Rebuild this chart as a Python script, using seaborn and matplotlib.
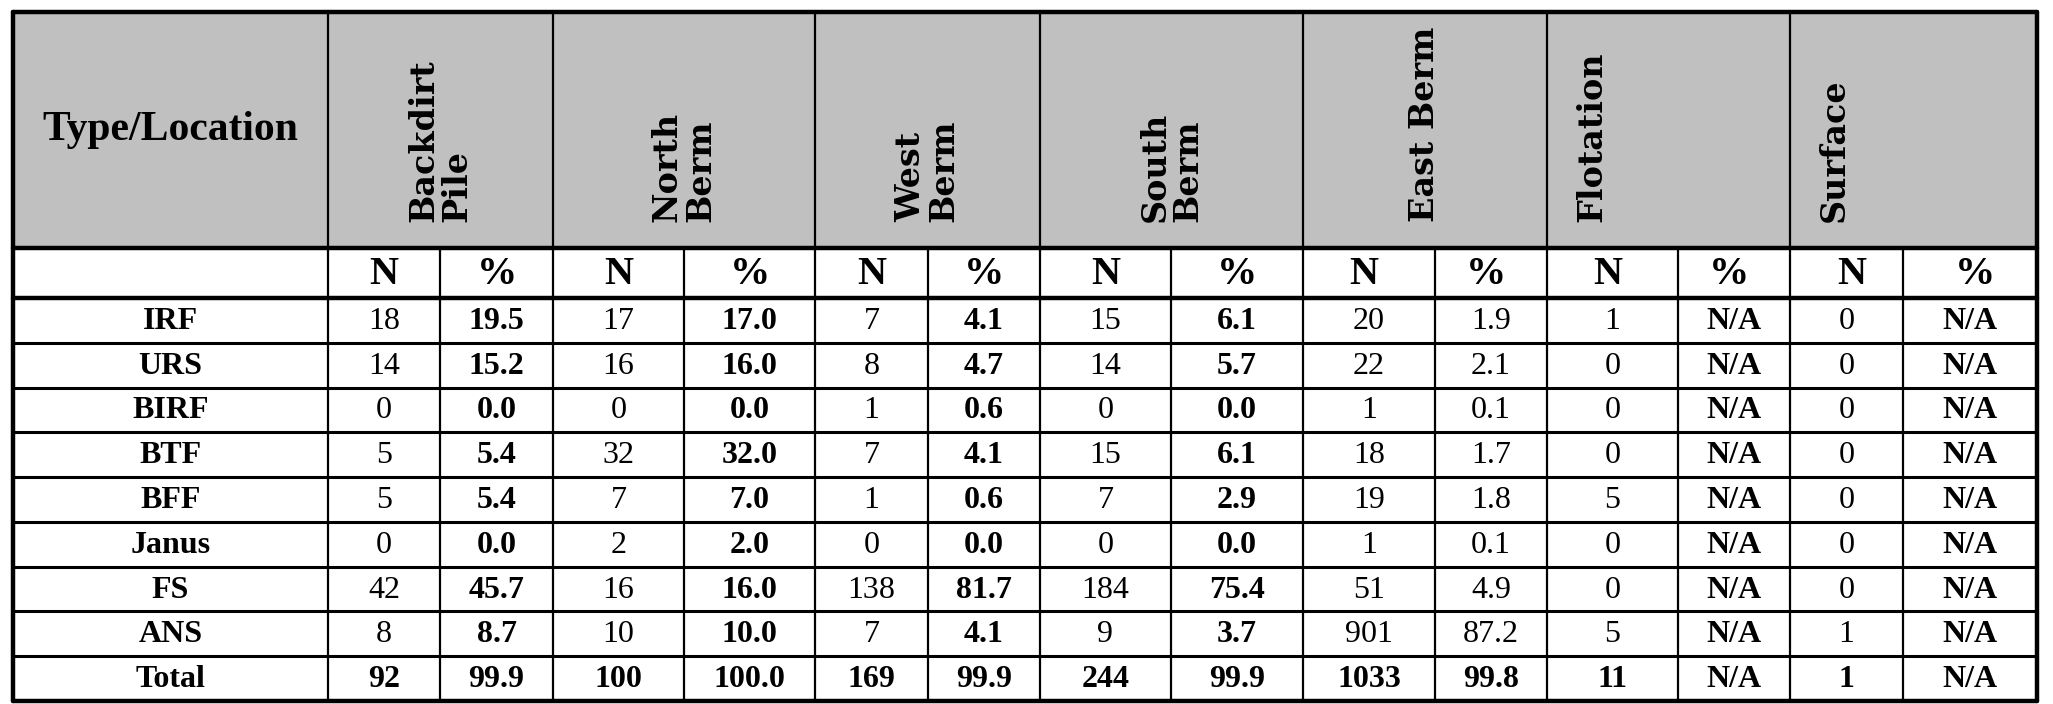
import matplotlib
matplotlib.use("Agg")
import matplotlib.pyplot as plt
import seaborn as sns

sns.set_style("white")
plt.rcParams["text.color"] = "black"

groups = ["Backdirt\nPile", "North\nBerm", "West\nBerm", "South\nBerm", "East Berm", "Flotation", "Surface"]
types = ["IRF", "URS", "BIRF", "BTF", "BFF", "Janus", "FS", "ANS", "Total"]
backdirt_n = ["18", "14", "0", "5", "5", "0", "42", "8", "92"]
backdirt_p = ["19.5", "15.2", "0.0", "5.4", "5.4", "0.0", "45.7", "8.7", "99.9"]
north_n = ["17", "16", "0", "32", "7", "2", "16", "10", "100"]
north_p = ["17.0", "16.0", "0.0", "32.0", "7.0", "2.0", "16.0", "10.0", "100.0"]
west_n = ["7", "8", "1", "7", "1", "0", "138", "7", "169"]
west_p = ["4.1", "4.7", "0.6", "4.1", "0.6", "0.0", "81.7", "4.1", "99.9"]
south_n = ["15", "14", "0", "15", "7", "0", "184", "9", "244"]
south_p = ["6.1", "5.7", "0.0", "6.1", "2.9", "0.0", "75.4", "3.7", "99.9"]
east_n = ["20", "22", "1", "18", "19", "1", "51", "901", "1033"]
east_p = ["1.9", "2.1", "0.1", "1.7", "1.8", "0.1", "4.9", "87.2", "99.8"]
flot_n = ["1", "0", "0", "0", "5", "0", "0", "5", "11"]
flot_p = ["N/A"] * 9
surf_n = ["0", "0", "0", "0", "0", "0", "0", "1", "1"]
surf_p = ["N/A"] * 9

cols = [backdirt_n, backdirt_p, north_n, north_p, west_n, west_p, south_n, south_p,
        east_n, east_p, flot_n, flot_p, surf_n, surf_p]
bold_pct = [True, True, True, True, False, True, True]

W, H = 2053, 704
fig = plt.figure(figsize=(W / 100, H / 100), dpi=100)
ax = fig.add_axes([0, 0, 1, 1])
ax.set_xlim(0, W)
ax.set_ylim(H, 0)
ax.axis("off")

xs = [13, 328, 440, 553, 684, 815, 928, 1040, 1171, 1303, 1435, 1547, 1678, 1790, 1903, 2037]
y_top, y_h, y_s = 12, 248, 298
y_bot = 701
rh = (y_bot - y_s) / 9
row_y = [y_s + i * rh for i in range(10)]

serif = "Liberation Serif"
ax.add_patch(plt.Rectangle((xs[0], y_top), xs[-1] - xs[0], y_h - y_top, color="#c0c0c0", zorder=0))

lw_thin, lw_thick = 1.6, 3.2
ax.plot([xs[0], xs[-1]], [y_top, y_top], color="black", lw=lw_thick)
ax.plot([xs[0], xs[-1]], [y_h, y_h], color="black", lw=lw_thick)
ax.plot([xs[0], xs[-1]], [y_s, y_s], color="black", lw=lw_thick)
for yy in row_y[1:-1]:
    ax.plot([xs[0], xs[-1]], [yy, yy], color="black", lw=2.2)
ax.plot([xs[0], xs[-1]], [y_bot, y_bot], color="black", lw=lw_thick)
for i, x in enumerate(xs):
    if i in (0, len(xs) - 1):
        ax.plot([x, x], [y_top, y_bot], color="black", lw=lw_thick)
    elif i % 2 == 1:
        ax.plot([x, x], [y_top, y_bot], color="black", lw=lw_thin)
    else:
        ax.plot([x, x], [y_h, y_bot], color="black", lw=lw_thin)

ax.text((xs[0] + xs[1]) / 2, (y_top + y_h) / 2, "Type/Location", family=serif, weight="bold",
        fontsize=30, ha="center", va="center")
for g, name in enumerate(groups):
    x0, x1 = xs[1 + 2 * g], xs[3 + 2 * g]
    if g < 5:
        ax.text((x0 + x1) / 2, 222, name, family="DejaVu Serif", weight="bold", fontsize=24,
                rotation=90, ha="center", va="bottom", multialignment="left", linespacing=1.0)
    else:
        ax.text(x0 + 28, 222, name, family="DejaVu Serif", weight="bold", fontsize=24,
                rotation=90, ha="left", va="bottom")
    ax.text((x0 + (x0 + x1) / 2) / 2, (y_h + y_s) / 2 + 2, "N", family=serif, weight="bold",
            fontsize=29, ha="center", va="center")
    ax.text(((x0 + x1) / 2 + x1) / 2, (y_h + y_s) / 2 + 2, "%", family=serif, weight="bold",
            fontsize=29, ha="center", va="center")

for r, t in enumerate(types):
    yc = (row_y[r] + row_y[r + 1]) / 2 + 1
    total = t == "Total"
    ax.text((xs[0] + xs[1]) / 2, yc, t, family=serif, weight="bold", fontsize=23, ha="center", va="center")
    for c, col in enumerate(cols):
        is_pct = c % 2 == 1
        bold = total or (is_pct and bold_pct[c // 2])
        ax.text((xs[1 + c] + xs[2 + c]) / 2, yc, col[r], family=serif,
                weight="bold" if bold else "normal", fontsize=23, ha="center", va="center")

fig.savefig("out.png", dpi=100)
